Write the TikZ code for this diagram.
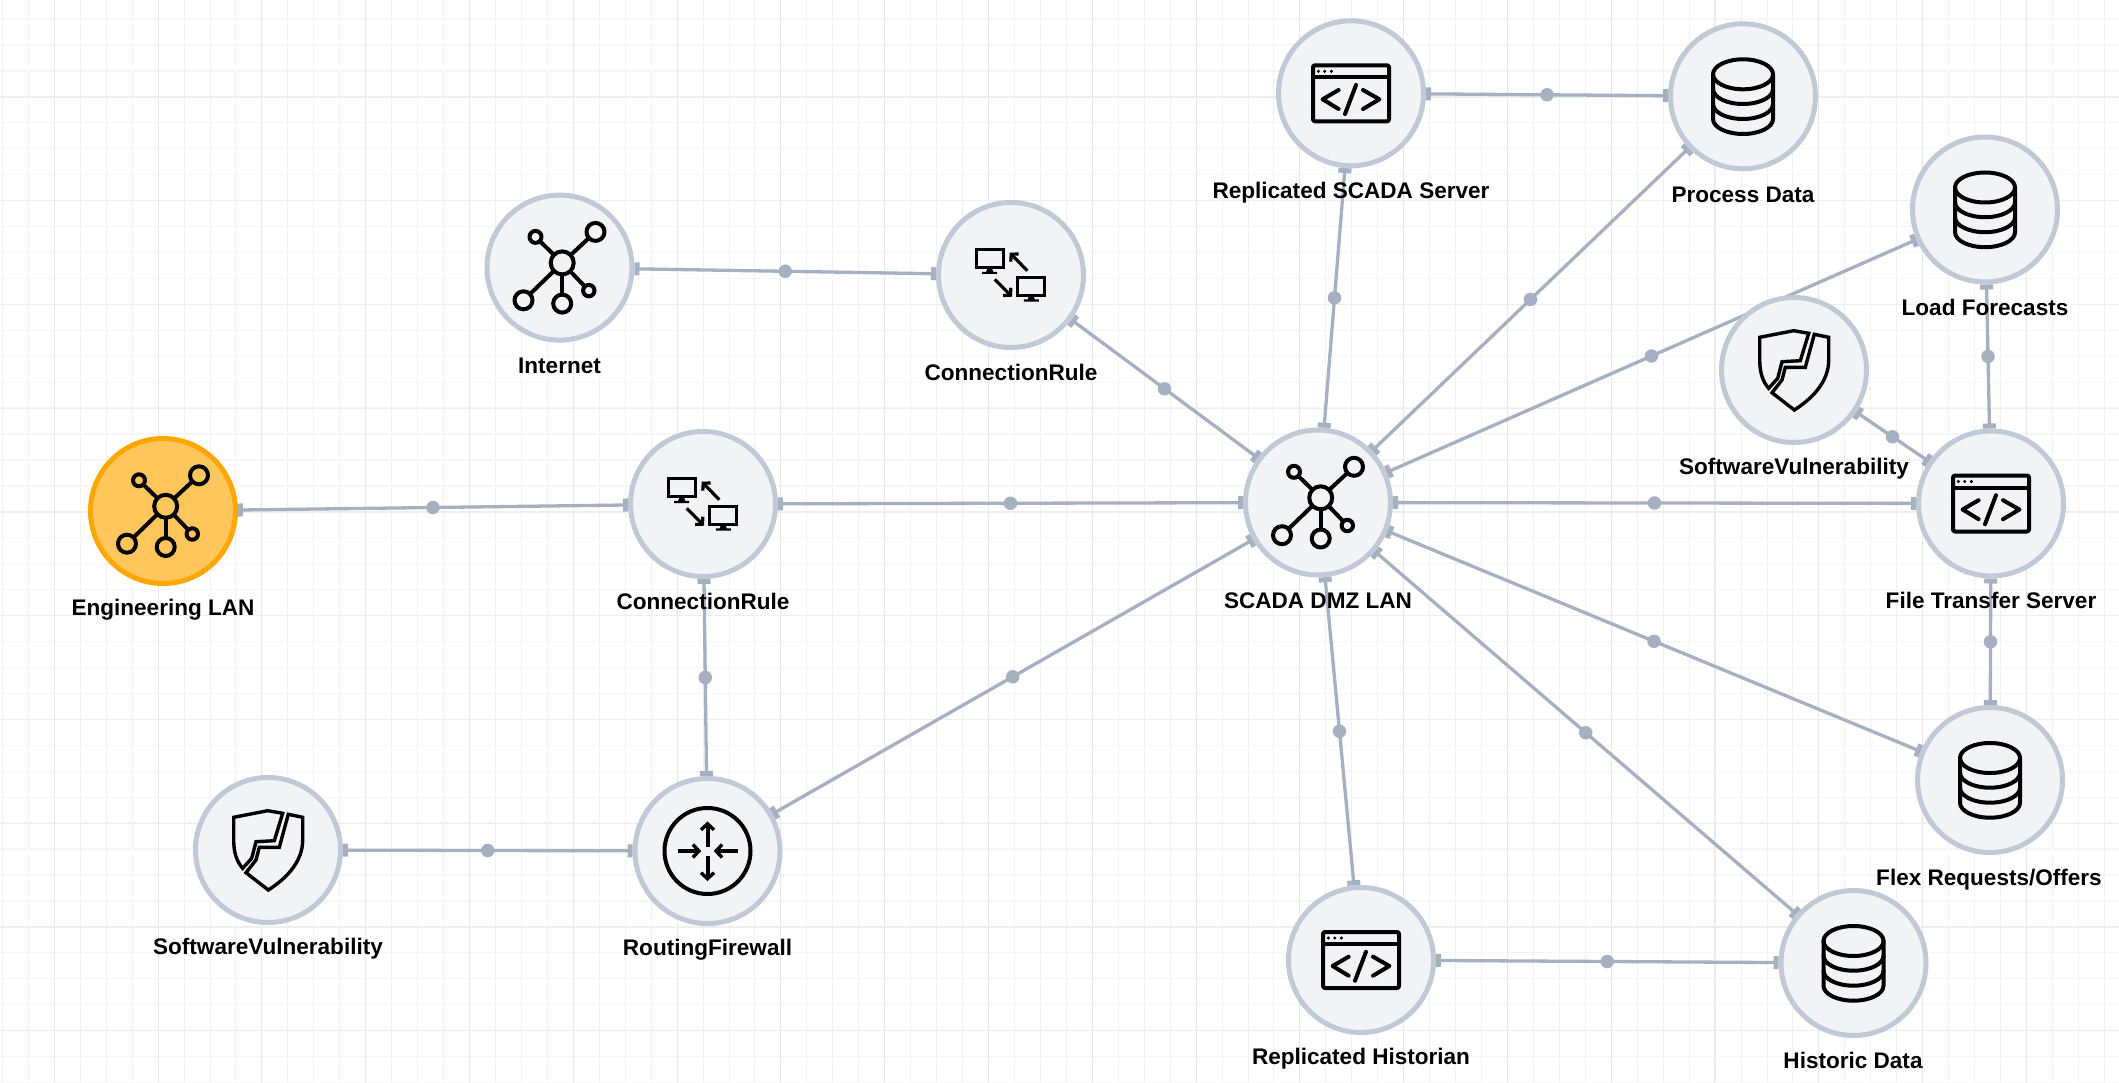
\documentclass[tikz,border=0pt]{standalone}
\usepackage{fontspec}
\setmainfont{Liberation Sans}
\usetikzlibrary{arrows.meta}
\pgfdeclarelayer{gridlayer}
\pgfdeclarelayer{edgelayer}
\pgfsetlayers{gridlayer,edgelayer,main}
\definecolor{gridvminor}{HTML}{F0F1F2}
\definecolor{gridvmajor}{HTML}{E6E7E9}
\definecolor{gridhminor}{HTML}{F6F6F7}
\definecolor{gridhmajor}{HTML}{EEEEEF}
\definecolor{nodefill}{HTML}{F2F3F5}
\definecolor{nodeline}{HTML}{C2C9D6}
\definecolor{engfill}{HTML}{FFC65C}
\definecolor{engline}{HTML}{FFA600}
\definecolor{linkcol}{HTML}{A7B0C1}
\tikzset{
  x=1pt,y=1pt,
  devnode/.style={circle,draw=nodeline,fill=nodefill,line width=5pt,minimum size=145pt,inner sep=0pt},
  engnode/.style={devnode,draw=engline,fill=engfill},
  lbl/.style={font=\fontsize{22.55}{26}\selectfont\bfseries,text=black,inner sep=0pt},
  link/.style={draw=linkcol,line width=3.3pt,{Rectangle[length=5pt,width=13pt]}-{Rectangle[length=5pt,width=13pt]}},
  middot/.style={circle,fill=linkcol,minimum size=13.5pt,inner sep=0pt,midway},
  ico/.style={draw=black,line width=4pt,line cap=round,line join=round},
  barb/.style={-{Straight Barb[length=6pt,width=13pt,line width=3.4pt]}},
  smallbarb/.style={draw=black,line width=3.2pt,-{Straight Barb[length=5pt,width=11pt,line width=3.2pt]}},
  neticon/.pic={
    \coordinate (h) at (2.7,4.7);
    \foreach \cx/\cy/\r in {36/35.7/9,-24/30.7/6,-36/-32.7/9,2.7/-36/9,29.3/-23/5.7}{
      \draw[ico,line cap=butt,shorten <=11.5pt,shorten >=\r pt] (h) -- (\cx,\cy);
      \draw[ico] (\cx,\cy) circle (\r);
    }
    \draw[ico] (h) circle (11.5);
  },
  dbicon/.pic={
    \draw[ico] (0,22) ellipse [x radius=30,y radius=15];
    \draw[ico] (-30,22) -- (-30,-22.7) arc [start angle=180,end angle=360,x radius=30,y radius=15] -- (30,22);
    \draw[ico] (-30,7.3) arc [start angle=180,end angle=360,x radius=30,y radius=15];
    \draw[ico] (-30,-7.7) arc [start angle=180,end angle=360,x radius=30,y radius=15];
  },
  codeicon/.pic={
    \draw[ico,rounded corners=2pt] (-38,-28) rectangle (38,28);
    \draw[ico] (-38,16) -- (38,16);
    \foreach \dx in {-32.6,-26.3,-19.6}{\fill (\dx,22) circle (1.7);}
    \draw[ico] (-12.4,3.3) -- (-28.4,-6) -- (-12.4,-15.7);
    \draw[ico] (5,8.3) -- (-6,-20.7);
    \draw[ico] (12,3.3) -- (28.4,-6) -- (12,-15.7);
  },
  monitor/.pic={
    \draw[draw=black,line width=3pt] (-13.5,9) rectangle (13.5,-9);
    \fill (-2.5,-10) -- (2.5,-10) -- (3.5,-13) -- (7.5,-13) -- (7.5,-15.2) -- (-7.5,-15.2) -- (-7.5,-13) -- (-3.5,-13) -- cycle;
  },
  crulicon/.pic={
    \pic at (-21.3,16.2) {monitor};
    \pic at (20.3,-11.3) {monitor};
    \draw[smallbarb] (16.3,4.3) -- (-1.3,22.3);
    \draw[smallbarb] (-16.3,-4.3) -- (1,-21.7);
  },
  shieldicon/.pic={
    \draw[draw=black,line width=3.4pt,line join=miter]
      (14.7,36.7) -- (-0.3,39.3) -- (-34.3,32.7) -- (-34.3,10)
      .. controls (-34.3,-3) and (-31,-12) .. (-25.3,-18.3)
      -- (-16.3,-8.3) -- (-12,8.3) -- (6.3,9.3) -- cycle;
    \draw[draw=black,line width=3.4pt,line join=miter]
      (20.3,35.7) -- (34.7,32.7) -- (34.7,10)
      .. controls (34.7,-13.3) and (16,-30) .. (0.3,-40)
      -- (-22,-22.7) -- (-12,-10) -- (-8.7,2.7) -- (11.3,2.7) -- cycle;
  },
  routericon/.pic={
    \draw[ico] (0,0) circle (43);
    \draw[ico,line cap=butt,barb] (0,4.5) -- (0,29.5);
    \draw[ico,line cap=butt,barb] (0,-5) -- (0,-30);
    \draw[ico,line cap=butt,barb] (-30,0) -- (-6.3,0);
    \draw[ico,line cap=butt,barb] (30,0) -- (6.3,0);
  },
}
\begin{document}
\begin{tikzpicture}
\useasboundingbox (0,0) rectangle (2119,-1083);

% nodes
\node[devnode] (internet) at (559.5,-267.6) {};
\node[devnode] (crtop) at (1011,-275) {};
\node[engnode] (eng) at (163,-511) {};
\node[devnode] (crmid) at (703,-504) {};
\node[devnode] (dmz) at (1318,-502.5) {};
\node[devnode] (repscada) at (1351,-93.3) {};
\node[devnode] (process) at (1743,-96.3) {};
\node[devnode] (load) at (1985,-209.5) {};
\node[devnode] (swright) at (1794,-370) {};
\node[devnode] (filesrv) at (1991,-503.5) {};
\node[devnode] (flex) at (1990,-780) {};
\node[devnode] (swleft) at (268,-850) {};
\node[devnode] (fw) at (707.5,-851) {};
\node[devnode] (rephist) at (1361,-960) {};
\node[devnode] (histdata) at (1853.5,-963) {};

% icons
\pic at (internet) {neticon};
\pic at (eng) {neticon};
\pic at (dmz) {neticon};
\pic at (crtop) {crulicon};
\pic at (crmid) {crulicon};
\pic at (repscada) {codeicon};
\pic at (filesrv) {codeicon};
\pic at (rephist) {codeicon};
\pic at (process) {dbicon};
\pic at (load) {dbicon};
\pic at (flex) {dbicon};
\pic at (histdata) {dbicon};
\pic at (swright) {shieldicon};
\pic at (swleft) {shieldicon};
\pic at (fw) {routericon};

% labels
\node[lbl] (l1) at (559.5,-366) {Internet};
\node[lbl] (l2) at (1011,-372) {ConnectionRule};
\node[lbl] (l3) at (163,-609.5) {Engineering LAN};
\node[lbl] (l4) at (703,-601.5) {ConnectionRule};
\node[lbl] (l5) at (1318,-601) {SCADA DMZ LAN};
\node[lbl] (l6) at (1351,-193) {Replicated SCADA Server};
\node[lbl] (l7) at (1743,-195) {Process Data};
\node[lbl] (l8) at (1985,-307) {Load Forecasts};
\node[lbl] (l9) at (1794,-469) {SoftwareVulnerability};
\node[lbl] (l10) at (1991,-600.5) {File Transfer Server};
\node[lbl] (l11) at (1989,-879.5) {Flex Requests/Offers};
\node[lbl] (l12) at (268,-949) {SoftwareVulnerability};
\node[lbl] (l13) at (707.5,-950) {RoutingFirewall};
\node[lbl] (l14) at (1361,-1059) {Replicated Historian};
\node[lbl] (l15) at (1853,-1060.5) {Historic Data};

% connectors
\begin{pgfonlayer}{edgelayer}
\foreach \a/\b in {internet/crtop,eng/crmid,crmid/dmz,crtop/dmz,crmid/fw,swleft/fw,fw/dmz,
  dmz/repscada,dmz/process,dmz/load,dmz/filesrv,dmz/flex,dmz/histdata,dmz/rephist,
  repscada/process,swright/filesrv,load/filesrv,filesrv/flex,rephist/histdata}{
  \draw[link] (\a) -- node[middot] (m\a\b) {} (\b);
}
\end{pgfonlayer}

% background grid
\begin{pgfonlayer}{gridlayer}
\fill[white] (0,0) rectangle (2119,-1083);
\foreach \i in {0,...,81}{
  \pgfmathsetmacro{\gx}{2.4+25.95*\i}
  \draw[gridvminor,line width=1pt] (\gx,0) -- (\gx,-1083);
}
\foreach \i in {0,...,41}{
  \pgfmathsetmacro{\gy}{19+25.94*\i}
  \draw[gridhminor,line width=1.3pt] (0,-\gy) -- (2119,-\gy);
}
\foreach \i in {0,...,20}{
  \pgfmathsetmacro{\gx}{54.3+103.79*\i}
  \draw[gridvmajor,line width=1pt] (\gx,0) -- (\gx,-1083);
}
\foreach \i in {0,...,9}{
  \pgfmathsetmacro{\gy}{97+103.75*\i}
  \draw[gridhmajor,line width=1.3pt] (0,-\gy) -- (2119,-\gy);
}
\end{pgfonlayer}
\end{tikzpicture}
\end{document}
